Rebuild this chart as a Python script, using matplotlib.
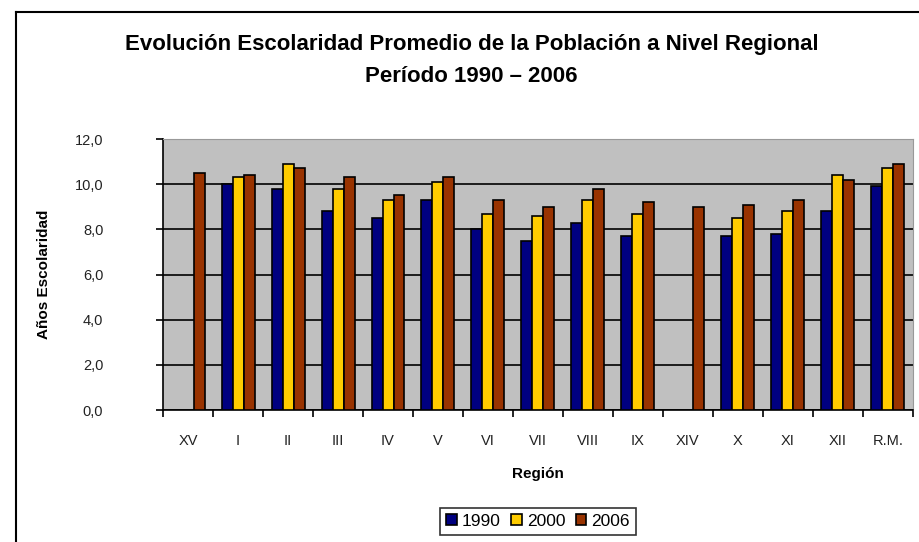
import numpy as np
import matplotlib.pyplot as plt
from matplotlib.lines import Line2D

regiones = ['XV', 'I', 'II', 'III', 'IV', 'V', 'VI', 'VII', 'VIII', 'IX',
            'XIV', 'X', 'XI', 'XII', 'R.M.']
v1990 = [np.nan, 10.0, 9.8, 8.8, 8.5, 9.3, 8.0, 7.5, 8.3, 7.7,
         np.nan, 7.7, 7.8, 8.8, 9.9]
v2000 = [np.nan, 10.3, 10.9, 9.8, 9.3, 10.1, 8.7, 8.6, 9.3, 8.7,
         np.nan, 8.5, 8.8, 10.4, 10.7]
v2006 = [10.5, 10.4, 10.7, 10.3, 9.5, 10.3, 9.3, 9.0, 9.8, 9.2,
         9.0, 9.1, 9.3, 10.2, 10.9]
yticks = [0, 2, 4, 6, 8, 10, 12]
ytick_labels = ['0,0', '2,0', '4,0', '6,0', '8,0', '10,0', '12,0']

series = [('1990', v1990, '#000080'),
          ('2000', v2000, '#FFCC00'),
          ('2006', v2006, '#993300')]

plt.rcParams['font.family'] = ['Liberation Sans', 'DejaVu Sans']

fig = plt.figure(figsize=(9.19, 5.42), dpi=100)
ax = fig.add_axes([0.1774, 0.2435, 0.816, 0.5])

x = np.arange(len(regiones))
w = 0.22
for i, (lab, vals, col) in enumerate(series):
    ax.bar(x + (i - 1) * w, vals, w, color=col, edgecolor='black',
           linewidth=1.2, label=lab, zorder=3)

ax.set_facecolor('#C0C0C0')
ax.set_xlim(-0.5, len(regiones) - 0.5)
ax.set_ylim(0, 12)
ax.set_yticks(yticks)
ax.set_yticklabels(ytick_labels, fontsize=10.5, color='#222222')
ax.grid(axis='y', color='black', linewidth=1.2, zorder=1)
ax.tick_params(axis='y', direction='out', length=5, width=1.2, pad=38)

ax.set_xticks(x)
ax.set_xticklabels(regiones, fontsize=10.5, color='#222222')
ax.set_xticks(np.arange(len(regiones) + 1) - 0.5, minor=True)
ax.tick_params(axis='x', which='major', length=0, pad=17)
ax.tick_params(axis='x', which='minor', direction='out', length=5, width=1.2)

for s in ['top', 'right']:
    ax.spines[s].set_color('#999999')
for s in ['left', 'bottom']:
    ax.spines[s].set_color('black')
    ax.spines[s].set_linewidth(1.2)

ax.set_xlabel('Región', fontsize=11, fontweight='bold', labelpad=14)
ax.set_ylabel('Años Escolaridad', fontsize=11, fontweight='bold')
ax.yaxis.set_label_coords(-0.150, 0.5)

fig.text(0.513, 0.917, 'Evolución Escolaridad Promedio de la Población a Nivel Regional',
         ha='center', va='center', fontsize=16, fontweight='bold')
fig.text(0.513, 0.859, 'Período 1990 – 2006',
         ha='center', va='center', fontsize=16, fontweight='bold')

leg = ax.legend(loc='center', bbox_to_anchor=(0.5, -0.41), ncol=3,
                fontsize=12.5, frameon=True, fancybox=False, handlelength=0.6,
                handleheight=0.6, handletextpad=0.3, columnspacing=0.6,
                borderpad=0.35, borderaxespad=0)
leg.get_frame().set_edgecolor('black')
leg.get_frame().set_linewidth(1.2)

# marco exterior
fig.add_artist(Line2D([16 / 919, 16 / 919], [0, 1 - 12 / 542], color='black', lw=1.5))
fig.add_artist(Line2D([16 / 919, 1], [1 - 12 / 542, 1 - 12 / 542], color='black', lw=1.5))

fig.savefig('out.png', dpi=100)
